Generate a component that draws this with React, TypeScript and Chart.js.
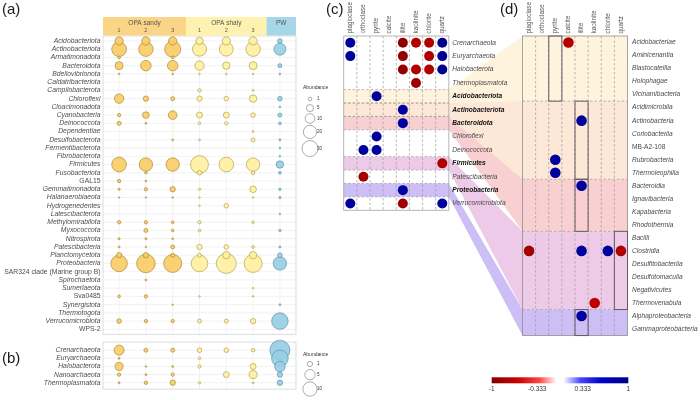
import React, { useEffect, useRef } from "react";
import { Chart, registerables } from "chart.js";

Chart.register(...registerables);

// ---------------- data ----------------
const phylaBacteria = [
  "Acidobacteriota", "Actinobacteriota", "Armatimonadota", "Bacteroidota", "Bdellovibrionota",
  "Caldatribacteriota", "Campilobacterota", "Chloroflexi", "Cloacimonadota", "Cyanobacteria",
  "Deinococcota", "Dependentiae", "Desulfobacterota", "Fermentibacterota", "Fibrobacterota",
  "Firmicutes", "Fusobacteriota", "GAL15", "Gemmatimonadota", "Halanaerobiaeota",
  "Hydrogenedentes", "Latescibacterota", "Methylomirabilota", "Myxococcota", "Nitrospirota",
  "Patescibacteria", "Planctomycetota", "Proteobacteria", "SAR324 clade (Marine group B)", "Spirochaetota",
  "Sumerlaeota", "Sva0485", "Synergistota", "Thermotogota", "Verrucomicrobiota", "WPS-2",
];
const uprightNames = ["GAL15", "SAR324 clade (Marine group B)", "Sva0485", "WPS-2", "MB-A2-108"];

const sampleGroups = ["OPA sandy", "OPA shaly", "PW"];
const sampleTicks = ["1", "2", "3", "1", "2", "3", ""];
const sampleGroupOf = [0, 0, 0, 1, 1, 1, 2];

// relative abundance (%) of bacterial phyla
const bacSandy1 = [7, 25, 0.4, 6.5, 0.05, 0, 0, 9.3, 0, 0.75, 1.2, 0, 0, 0, 0, 25, 0, 0.75, 0.2, 0.03, 0, 0, 0.75, 0, 0.15, 0.1, 2.5, 32, 0, 0, 0, 0.4, 0, 0, 1.7, 0];
const bacSandy2 = [7, 24, 0, 12, 0, 0, 0, 2.5, 0, 4.2, 0.1, 0, 0, 0, 0, 20.5, 0.3, 0.1, 0.75, 0.03, 0, 0, 0.75, 1.2, 0.15, 0.03, 2.5, 41, 0, 0.1, 0, 0.75, 0, 0, 0.75, 0];
const bacSandy3 = [7, 30, 0.4, 12, 0.05, 0, 0, 1.2, 0, 7.7, 0, 0, 0.1, 0, 0, 20.5, 0, 0, 2.5, 0.05, 0, 0, 0.4, 0.4, 0.1, 1.2, 1.2, 38.5, 0, 0, 0, 0, 0.02, 0, 0.75, 0];
const bacShaly1 = [5.5, 22.5, 0, 9.3, 0.05, 0, 0.75, 2.5, 0, 3.3, 0.4, 0, 0.1, 0, 0, 38, 1.7, 0, 0.2, 0.05, 0.05, 0, 0.75, 0.4, 0, 2.5, 1.2, 32.5, 0, 0, 0, 0.05, 0, 0, 1.2, 0];
const bacShaly2 = [7, 22, 0, 5.5, 0.05, 0, 0, 1.7, 0, 3.3, 0.75, 0, 0, 0, 0, 24.6, 0, 0, 0, 0, 1.7, 0, 0, 0, 0, 1.7, 5.5, 48, 0, 0, 0, 0, 0, 0, 1.2, 0];
const bacShaly3 = [7, 24, 0, 6.5, 0.05, 0, 0.1, 5.5, 0, 1.7, 0, 0.1, 1.2, 0, 0, 20.5, 0.75, 0, 4.2, 0.05, 0, 0, 0.35, 0, 0, 0.4, 5.5, 38.5, 0, 0, 0.05, 0.05, 0, 0, 2.5, 0];
const bacPW = [1.7, 16, 0, 1.2, 0.05, 0, 0, 1.7, 0.05, 1.2, 0.4, 0, 0.15, 0.05, 0.05, 5.5, 0.4, 0, 0.25, 0.2, 0, 0.03, 0, 0.25, 0, 0.15, 1.7, 20.5, 0, 0, 0, 0, 0.1, 0, 32, 0];

const archaea = ["Crenarchaeota", "Euryarchaeota", "Halobacterota", "Nanoarchaeota", "Thermoplasmatota"];
const arcSandy1 = [4.6, 0.05, 2.8, 0.33, 0.05];
const arcSandy2 = [0.5, 0, 0.02, 0.05, 0.33];
const arcSandy3 = [0.5, 0, 0.05, 0.33, 1.1];
const arcShaly1 = [0.75, 0.15, 0.33, 0, 0.1];
const arcShaly2 = [0.75, 0, 0, 1.4, 0];
const arcShaly3 = [0.33, 0, 1.4, 2.8, 0.05];
const arcPW = [20.5, 13.8, 5.2, 1.1, 1.1];

const legendA = [1, 5, 10, 20, 30];
const legendB = [1, 5, 10];

const minerals = ["plagioclase", "orthoclase", "pyrite", "calcite", "illite", "kaolinite", "chlorite", "quartz"];
const taxaC = [
  "Crenarchaeota", "Euryarchaeota", "Halobacterota", "Thermoplasmatota", "Acidobacteriota",
  "Actinobacteriota", "Bacteroidota", "Chloroflexi", "Deinococcota", "Firmicutes",
  "Patescibacteria", "Proteobacteria", "Verrucomicrobiota",
];
const corrC: [string, string, number][] = [
  ["Crenarchaeota", "plagioclase", 0.88], ["Crenarchaeota", "illite", -0.92], ["Crenarchaeota", "kaolinite", -0.76], ["Crenarchaeota", "chlorite", -0.76], ["Crenarchaeota", "quartz", 0.93],
  ["Euryarchaeota", "plagioclase", 0.87], ["Euryarchaeota", "illite", -0.9], ["Euryarchaeota", "chlorite", -0.76], ["Euryarchaeota", "quartz", 0.9],
  ["Halobacterota", "illite", -0.9], ["Halobacterota", "kaolinite", -0.76], ["Halobacterota", "chlorite", -0.76], ["Halobacterota", "quartz", 0.92],
  ["Thermoplasmatota", "kaolinite", -0.86],
  ["Acidobacteriota", "pyrite", 0.85],
  ["Actinobacteriota", "illite", 0.85],
  ["Bacteroidota", "illite", 0.85],
  ["Chloroflexi", "pyrite", 0.85],
  ["Deinococcota", "orthoclase", 0.85], ["Deinococcota", "pyrite", 0.85],
  ["Firmicutes", "quartz", -0.76],
  ["Patescibacteria", "orthoclase", -0.82],
  ["Proteobacteria", "illite", 0.85],
  ["Verrucomicrobiota", "plagioclase", 0.86], ["Verrucomicrobiota", "illite", -0.84], ["Verrucomicrobiota", "quartz", 0.86],
];

const classesD = [
  "Acidobacteriae", "Aminicenantia", "Blastocatellia", "Holophagae", "Vicinamibacteria",
  "Acidimicrobiia", "Actinobacteria", "Coriobacteriia", "MB-A2-108", "Rubrobacteria", "Thermoleophilia",
  "Bacteroidia", "Ignavibacteria", "Kapabacteria", "Rhodothermia",
  "Bacilli", "Clostridia", "Desulfitobacteriia", "Desulfotomaculia", "Negativicutes", "Thermovenabula",
  "Alphaproteobacteria", "Gammaproteobacteria",
];
const groupPhyla = ["Acidobacteriota", "Actinobacteriota", "Bacteroidota", "Firmicutes", "Proteobacteria"];
const groupSizes = [5, 6, 4, 6, 2];
const corrD: [string, string, number][] = [
  ["Acidobacteriae", "calcite", -0.74],
  ["Actinobacteria", "illite", 0.86],
  ["Rubrobacteria", "pyrite", 0.85],
  ["Thermoleophilia", "pyrite", 0.85],
  ["Bacteroidia", "illite", 0.86],
  ["Clostridia", "plagioclase", -0.82], ["Clostridia", "illite", 0.86], ["Clostridia", "chlorite", 0.86], ["Clostridia", "quartz", -0.76],
  ["Thermovenabula", "kaolinite", -0.7],
  ["Alphaproteobacteria", "illite", 0.86],
];
const colorbarTicks = [-1, -0.333, 0.333, 1];

// ---------------- styles / layout ----------------
const FONT = "'Liberation Sans', Arial, Helvetica, sans-serif";
const headerFill = ["#FBD587", "#FFF1B0", "#A6D7E8"];
const bubbleFill = ["rgba(249,205,104,0.93)", "rgba(255,240,160,0.93)", "rgba(152,207,226,0.93)"];
const bubbleStroke = ["#A98A34", "#B3A24E", "#5B95AD"];
const bandFill = ["#FEF4DE", "#FDE7D6", "#F8D0D2", "#EDCBE8", "#CDBEF6"];
const AREA = { left: 103, right: 627.5, top: 36, bottom: 398.4 };

const sizeA = (v: number) => 0.5 + 1.37 * Math.sqrt(v);
const sizeB = (v: number) => 0.5 + 2.1 * Math.sqrt(v);

const corrStops: [number, number[]][] = [
  [-1, [128, 0, 0]], [-0.6, [210, 0, 0]], [-0.3, [255, 70, 70]], [-0.05, [255, 255, 255]],
  [0.05, [255, 255, 255]], [0.3, [70, 70, 255]], [0.6, [0, 0, 210]], [1, [0, 0, 128]],
];
function corrColor(v: number): string {
  for (let i = 0; i < corrStops.length - 1; i++) {
    const [a, ca] = corrStops[i];
    const [b, cb] = corrStops[i + 1];
    if (v >= a && v <= b) {
      const t = (v - a) / (b - a);
      const c = ca.map((x, k) => Math.round(x + (cb[k] - x) * t));
      return `rgb(${c[0]},${c[1]},${c[2]})`;
    }
  }
  return v < 0 ? "rgb(128,0,0)" : "rgb(0,0,128)";
}

function span(p0: number, v0: number, unit: number, lo: number, hi: number) {
  return { min: v0 - (p0 - lo) / unit, max: v0 + (hi - p0) / unit };
}
const sx = (p0: number, v0: number, unit: number) => ({
  type: "linear", axis: "x", position: "bottom", display: false,
  ...span(p0, v0, unit, AREA.left, AREA.right),
});
const sy = (p0: number, v0: number, unit: number) => ({
  type: "linear", axis: "y", position: "left", display: false, reverse: true,
  ...span(p0, v0, unit, AREA.top, AREA.bottom),
});

function txt(ctx: any, s: string, x: number, y: number, font: string, color: string, align = "left") {
  ctx.font = font;
  ctx.fillStyle = color;
  ctx.textAlign = align;
  ctx.textBaseline = "middle";
  ctx.fillText(s, x, y);
}

function sizeLegend(ctx: any, values: number[], size: (v: number) => number, cx: number, titleY: number, firstY: number) {
  txt(ctx, "Abundance", cx - 7, titleY, `5px ${FONT}`, "#333");
  let y = firstY;
  let prevHalf = 0;
  values.forEach((v, i) => {
    const r = size(v);
    const half = Math.max(9, 2 * r + 2) / 2;
    if (i > 0) y += prevHalf + half;
    prevHalf = half;
    ctx.beginPath();
    ctx.arc(cx, y, r, 0, Math.PI * 2);
    ctx.fillStyle = "#fff";
    ctx.fill();
    ctx.strokeStyle = "#777";
    ctx.lineWidth = 0.6;
    ctx.stroke();
    txt(ctx, String(v), cx + 7, y, `4.5px ${FONT}`, "#333");
  });
}

const figurePlugin = {
  id: "figure",
  beforeDatasetsDraw(chart: any) {
    const { ctx, scales } = chart;
    const { xa, ya, yb, xc, yc, xd, yd } = scales;
    const X = (s: any, v: number) => s.getPixelForValue(v);
    ctx.save();

    // panels (a) and (b): frame + grid
    const nCol = sampleTicks.length;
    const panels: [any, number, number, number][] = [
      [ya, -0.6, phylaBacteria.length - 0.4, phylaBacteria.length],
      [yb, -1, archaea.length - 0.22, archaea.length],
    ];
    const ax0 = X(xa, -0.6), ax1 = X(xa, nCol - 0.4);
    panels.forEach(([ys, lo, hi, n]) => {
      const y0 = X(ys, lo), y1 = X(ys, hi);
      ctx.fillStyle = "#fff";
      ctx.fillRect(ax0, y0, ax1 - ax0, y1 - y0);
      ctx.strokeStyle = "#EAEAEA";
      ctx.lineWidth = 0.6;
      for (let i = 0; i < n; i++) {
        ctx.beginPath(); ctx.moveTo(ax0, X(ys, i)); ctx.lineTo(ax1, X(ys, i)); ctx.stroke();
      }
      for (let j = 0; j < nCol; j++) {
        ctx.beginPath(); ctx.moveTo(X(xa, j), y0); ctx.lineTo(X(xa, j), y1); ctx.stroke();
      }
      ctx.strokeStyle = "#D4D4D4";
      ctx.lineWidth = 0.8;
      ctx.strokeRect(ax0, y0, ax1 - ax0, y1 - y0);
    });

    // header of (a)
    const hBot = X(ya, -0.6) - 0.5;
    const hTop = hBot - 18.5;
    sampleGroups.forEach((g, k) => {
      const idx = sampleGroupOf.map((gg, j) => (gg === k ? j : -1)).filter((j) => j >= 0);
      let lo = Math.min(...idx) - 0.5;
      let hi = Math.max(...idx) + 0.5;
      if (k === 0) lo = -0.6;
      if (k === sampleGroups.length - 1) hi = nCol - 0.4;
      const gx0 = X(xa, lo), gx1 = X(xa, hi);
      ctx.fillStyle = headerFill[k];
      ctx.fillRect(gx0, hTop, gx1 - gx0, hBot - hTop);
      txt(ctx, g, (gx0 + gx1) / 2, hTop + 6.5, `6.5px ${FONT}`, "#555", "center");
    });
    sampleTicks.forEach((t, j) => txt(ctx, t, X(xa, j), hTop + 13, `5.5px ${FONT}`, "#555", "center"));

    // (c) bands, flows and (d) group backgrounds
    const nM = minerals.length;
    const cx0 = X(xc, -0.5), cx1 = X(xc, nM - 0.5);
    const dx0 = X(xd, -0.5), dx1 = X(xd, nM - 0.5);
    const cy0 = X(yc, -0.5), cy1 = X(yc, taxaC.length - 0.5);
    const dy0 = X(yd, -0.5), dy1 = X(yd, classesD.length - 0.5);
    let start = 0;
    const groupRows: { ct: number; cb: number; dt: number; db: number; p: string }[] = [];
    groupPhyla.forEach((p, g) => {
      const r = taxaC.indexOf(p);
      const ct = X(yc, r - 0.5), cb = X(yc, r + 0.5);
      const dt = X(yd, start - 0.5), db = X(yd, start + groupSizes[g] - 0.5);
      groupRows.push({ ct, cb, dt, db, p });
      ctx.fillStyle = bandFill[g];
      ctx.beginPath();
      ctx.moveTo(cx0, ct); ctx.lineTo(cx1, ct); ctx.lineTo(dx0, dt); ctx.lineTo(dx1, dt);
      ctx.lineTo(dx1, db); ctx.lineTo(dx0, db); ctx.lineTo(cx1, cb); ctx.lineTo(cx0, cb);
      ctx.closePath();
      ctx.fill();
      start += groupSizes[g];
    });

    // dashed grid
    ctx.setLineDash([2.5, 2]);
    ctx.strokeStyle = "#9b9b9b";
    ctx.lineWidth = 0.7;
    for (let i = 1; i < nM; i++) {
      ctx.beginPath(); ctx.moveTo(X(xc, i - 0.5), cy0); ctx.lineTo(X(xc, i - 0.5), cy1); ctx.stroke();
      ctx.beginPath(); ctx.moveTo(X(xd, i - 0.5), dy0); ctx.lineTo(X(xd, i - 0.5), dy1); ctx.stroke();
    }
    groupRows.forEach(({ ct, cb, dt }, g) => {
      [ct, cb].forEach((y) => { ctx.beginPath(); ctx.moveTo(cx0, y); ctx.lineTo(cx1, y); ctx.stroke(); });
      if (g > 0) { ctx.beginPath(); ctx.moveTo(dx0, dt); ctx.lineTo(dx1, dt); ctx.stroke(); }
    });
    ctx.setLineDash([]);

    // frames
    ctx.strokeStyle = "#a5a5a5";
    ctx.lineWidth = 0.8;
    ctx.strokeRect(cx0, cy0, cx1 - cx0, cy1 - cy0);
    ctx.strokeStyle = "#8f8f8f";
    ctx.strokeRect(dx0, dy0, dx1 - dx0, dy1 - dy0);

    // boxes in (d) for the phylum-level significant minerals
    ctx.strokeStyle = "#665a66";
    ctx.lineWidth = 1;
    groupRows.forEach(({ dt, db, p }) => {
      corrC.filter(([t]) => t === p).forEach(([, m]) => {
        const c = minerals.indexOf(m);
        const bx0 = X(xd, c - 0.5), bx1 = X(xd, c + 0.5);
        ctx.strokeRect(bx0, dt, bx1 - bx0, db - dt);
      });
    });
    ctx.restore();
  },
  afterDatasetsDraw(chart: any) {
    const { ctx, scales } = chart;
    const { xa, ya, yb, xc, yc, xd, yd, xcb } = scales;
    const X = (s: any, v: number) => s.getPixelForValue(v);
    ctx.save();

    // panel letters
    txt(ctx, "(a)", 2, 10, `15px ${FONT}`, "#1a1a1a");
    txt(ctx, "(b)", 2, 358.5, `15px ${FONT}`, "#1a1a1a");
    txt(ctx, "(c)", 326, 9.5, `15px ${FONT}`, "#1a1a1a");
    txt(ctx, "(d)", 500, 9.5, `15px ${FONT}`, "#1a1a1a");

    // row labels (a), (b)
    const lx = X(xa, -0.6) - 2.5;
    const style = (n: string) => (uprightNames.includes(n) ? "" : "italic ");
    phylaBacteria.forEach((n, i) => txt(ctx, n, lx, X(ya, i), `${style(n)}6.8px ${FONT}`, "#4d4d4d", "right"));
    archaea.forEach((n, i) => txt(ctx, n, lx, X(yb, i), `${style(n)}6.8px ${FONT}`, "#4d4d4d", "right"));

    // size legends
    const legX = X(xa, sampleTicks.length - 0.4) + 14;
    sizeLegend(ctx, legendA, sizeA, legX, 88, 99);
    sizeLegend(ctx, legendB, sizeB, legX, 355, 364);

    // mineral headers (rotated)
    const rot = (s: string, x: number, y: number) => {
      ctx.save();
      ctx.translate(x, y);
      ctx.rotate(-Math.PI / 2);
      txt(ctx, s, 0, 0, `6.3px ${FONT}`, "#555", "left");
      ctx.restore();
    };
    minerals.forEach((m, i) => {
      rot(m, X(xc, i), X(yc, -0.5) - 2.5);
      rot(m, X(xd, i), X(yd, -0.5) - 2.5);
    });

    // (c) row labels
    const cxr = X(xc, minerals.length - 0.5) + 3.5;
    taxaC.forEach((t, i) => {
      const bold = groupPhyla.includes(t);
      txt(ctx, t, cxr, X(yc, i), `italic ${bold ? "bold " : ""}6.6px ${FONT}`, bold ? "#111" : "#4a4a4a");
    });
    // (d) row labels
    const dxr = X(xd, minerals.length - 0.5) + 4.5;
    classesD.forEach((t, i) => txt(ctx, t, dxr, X(yd, i), `${style(t)}6.6px ${FONT}`, "#4a4a4a"));

    // colour bar
    const g0 = X(xcb, -1), g1 = X(xcb, 1);
    const grad = ctx.createLinearGradient(g0, 0, g1, 0);
    for (let k = 0; k <= 40; k++) grad.addColorStop(k / 40, corrColor(-1 + (2 * k) / 40));
    ctx.fillStyle = grad;
    ctx.fillRect(g0, 377.3, g1 - g0, 6);
    colorbarTicks.forEach((t) => txt(ctx, String(t), X(xcb, t), 389, `6.5px ${FONT}`, "#333", "center"));
    ctx.restore();
  },
};

export default function App() {
  const ref = useRef<HTMLCanvasElement | null>(null);

  useEffect(() => {
    if (!ref.current) return;
    const bacSamples = [bacSandy1, bacSandy2, bacSandy3, bacShaly1, bacShaly2, bacShaly3, bacPW];
    const arcSamples = [arcSandy1, arcSandy2, arcSandy3, arcShaly1, arcShaly2, arcShaly3, arcPW];
    const datasets: any[] = [];
    const addBubbles = (samples: number[][], yID: string, size: (v: number) => number) => {
      samples.forEach((vals, j) => {
        const g = sampleGroupOf[j];
        datasets.push({
          xAxisID: "xa",
          yAxisID: yID,
          data: vals
            .map((v, i) => ({ x: j, y: i, v }))
            .filter((d) => d.v > 0)
            .sort((a, b) => b.v - a.v),
          backgroundColor: bubbleFill[g],
          borderColor: bubbleStroke[g],
          borderWidth: 0.7,
          radius: (c: any) => (c.raw ? size(c.raw.v) : 2),
        });
      });
    };
    addBubbles(bacSamples, "ya", sizeA);
    addBubbles(arcSamples, "yb", sizeB);

    datasets.push({
      xAxisID: "xc",
      yAxisID: "yc",
      data: corrC.map(([t, m, r]) => ({ x: minerals.indexOf(m), y: taxaC.indexOf(t), v: r })),
      backgroundColor: (c: any) => (c.raw ? corrColor(c.raw.v) : "#000"),
      borderWidth: 0,
      radius: 5,
    });
    datasets.push({
      xAxisID: "xd",
      yAxisID: "yd",
      data: corrD.map(([t, m, r]) => ({ x: minerals.indexOf(m), y: classesD.indexOf(t), v: r })),
      backgroundColor: (c: any) => (c.raw ? corrColor(c.raw.v) : "#000"),
      borderWidth: 0,
      radius: 5.3,
    });

    const chart = new Chart(ref.current, {
      type: "bubble",
      data: { datasets },
      options: {
        responsive: false,
        maintainAspectRatio: false,
        animation: false,
        events: [],
        layout: {
          padding: {
            left: AREA.left,
            top: AREA.top,
            right: 700 - AREA.right,
            bottom: 400 - AREA.bottom,
          },
        },
        plugins: {
          legend: { display: false },
          tooltip: { enabled: false },
          title: { display: false },
        },
        scales: {
          xa: sx(119.1, 0, 26.8),
          ya: sy(41.07, 0, 8.453),
          yb: sy(358.3, 0, 8.35),
          xc: sx(350.3, 0, 13.14),
          yc: sy(42.875, 0, 13.75),
          xd: sx(529.06, 0, 13.125),
          yd: sy(42.68, 0, 13.36),
          xcb: sx(491.7, -1, 68.3),
        } as any,
      },
      plugins: [figurePlugin as any],
    } as any);
    return () => chart.destroy();
  }, []);

  return (
    <div style={{ position: "fixed", left: 0, top: 0, width: 700, height: 400, background: "#fff" }}>
      <canvas ref={ref} width={700} height={400} style={{ display: "block", width: 700, height: 400 }} />
    </div>
  );
}
